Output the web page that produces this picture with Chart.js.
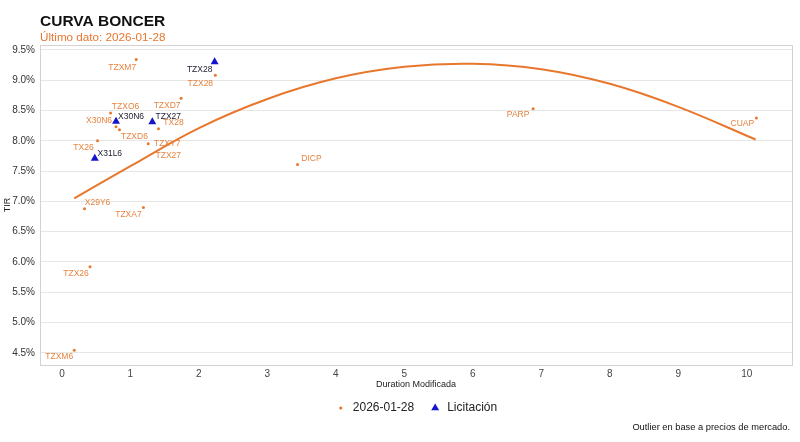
<!DOCTYPE html>
<html>
<head>
<meta charset="utf-8">
<script src="https://cdn.jsdelivr.net/npm/chart.js@4/dist/chart.umd.min.js"></script>
<style>
  html, body { margin: 0; padding: 0; background: #fff; }
</style>
</head>
<body>
<canvas id="myChart" width="800" height="442"></canvas>
<script>
// --- data ---
const bonos = ["TZXM7", "TZX28", "TZXD7", "TZXO6", "X30N6", "TZXD6", "TX28", "TZXY7", "TZX27",
  "TX26", "X29Y6", "TZXA7", "TZX26", "TZXM6", "DICP", "PARP", "CUAP"];
const bonosDuration = [1.085, 2.24, 1.74, 0.71, 0.79, 0.84, 1.41, 1.26, 1.32,
  0.52, 0.33, 1.19, 0.41, 0.18, 3.44, 6.88, 10.14];
const bonosTir = [9.34, 9.08, 8.70, 8.46, 8.23, 8.18, 8.20, 7.95, 8.31,
  8.00, 6.88, 6.90, 5.92, 4.545, 7.61, 8.53, 8.375];

const licitacion = ["TZX28", "X30N6", "TZX27", "X31L6"];
const licitacionDuration = [2.23, 0.79, 1.32, 0.48];
const licitacionTir = [9.30, 8.32, 8.31, 7.71];

// fitted curve
const curvaDuration = [0.18, 1, 2, 3, 4, 5, 6, 7, 8, 9, 10.13];
const curvaTir = [7.05, 7.58, 8.21, 8.69, 9.03, 9.22, 9.27, 9.18, 8.94, 8.56, 8.02];

const xTicks = [0, 1, 2, 3, 4, 5, 6, 7, 8, 9, 10];
const yTicks = [4.5, 5, 5.5, 6, 6.5, 7, 7.5, 8, 8.5, 9, 9.5];

const fechaDato = "2026-01-28";

// where the repel labels sit relative to each point (px)
const bonosLabelDx = [-14, -15, -14, 15, -17, 15, 15, 19, 16, -14, 13, -15, -14, -15, 14, -15, -14];
const bonosLabelDy = [8, 8, 7, -6, -6, 7, -6, 0, 34, 7, -6, 7, 7, 7, -6, 6, 6];
const licitacionLabelDx = [-15, 15, 16, 15];
const licitacionLabelDy = [8, -5, -5, -5];

const ORANGE = "#E8772E";
const ORANGE_TXT = "#E8823E";
const BLUE = "#1414CC";
const FONT = "'Liberation Sans', Arial, Helvetica, sans-serif";

function toPoints(xs, ys) {
  return xs.map((x, i) => ({ x: x, y: ys[i] }));
}

const decor = {
  id: "decor",
  beforeDraw(chart) {
    const ctx = chart.ctx;
    ctx.save();
    ctx.fillStyle = "#fff";
    ctx.fillRect(0, 0, chart.width, chart.height);
    ctx.restore();
  },
  beforeDatasetsDraw(chart) {
    const { ctx, chartArea: a } = chart;
    ctx.save();
    ctx.strokeStyle = "#d2d2d2";
    ctx.lineWidth = 1;
    ctx.strokeRect(Math.round(a.left) + 0.5, Math.round(a.top) + 0.5,
      Math.round(a.right - a.left), Math.round(a.bottom - a.top));
    ctx.restore();
  },
  afterDatasetsDraw(chart) {
    const ctx = chart.ctx;
    ctx.save();
    ctx.font = "8.5px " + FONT;
    ctx.textAlign = "center";
    ctx.textBaseline = "middle";
    chart.data.datasets.forEach((ds, di) => {
      if (!ds.names) return;
      const meta = chart.getDatasetMeta(di);
      ctx.fillStyle = ds.nameColor;
      meta.data.forEach((el, i) => {
        ctx.fillText(ds.names[i], el.x + ds.dx[i], el.y + ds.dy[i]);
      });
    });
    ctx.restore();
  },
  afterDraw(chart) {
    const { ctx, chartArea: a } = chart;
    ctx.save();
    ctx.textBaseline = "middle";
    ctx.textAlign = "left";
    ctx.fillStyle = "#111";
    ctx.font = "bold 15.5px " + FONT;
    ctx.fillText("CURVA BONCER", 40, 22);
    ctx.fillStyle = ORANGE;
    ctx.font = "11.7px " + FONT;
    ctx.fillText("Último dato: " + fechaDato, 40, 37.5);

    // legend
    ctx.font = "12px " + FONT;
    const t1 = fechaDato, t2 = "Licitación";
    const w1 = ctx.measureText(t1).width, w2 = ctx.measureText(t2).width;
    const total = 18 + w1 + 15 + 18 + w2;
    let x = (a.left + a.right) / 2 - total / 2;
    const y = 408;
    ctx.fillStyle = ORANGE;
    ctx.beginPath();
    ctx.arc(x + 6, y, 1.6, 0, Math.PI * 2);
    ctx.fill();
    ctx.fillStyle = "#222";
    ctx.fillText(t1, x + 18, y);
    x += 18 + w1 + 15;
    const r = 4.6;
    ctx.fillStyle = BLUE;
    ctx.beginPath();
    ctx.moveTo(x + 6, y - r);
    ctx.lineTo(x + 6 + r * 0.866, y + r * 0.5);
    ctx.lineTo(x + 6 - r * 0.866, y + r * 0.5);
    ctx.closePath();
    ctx.fill();
    ctx.fillStyle = "#222";
    ctx.fillText(t2, x + 18, y);

    // caption
    ctx.textAlign = "right";
    ctx.font = "9.3px " + FONT;
    ctx.fillStyle = "#111";
    ctx.fillText("Outlier en base a precios de mercado.", 790, 427);
    ctx.restore();
  }
};

const ctx = document.getElementById("myChart").getContext("2d");
const myChart = new Chart(ctx, {
  type: "scatter",
  data: {
    datasets: [
      {
        label: "curva",
        type: "line",
        data: toPoints(curvaDuration, curvaTir),
        borderColor: ORANGE,
        borderWidth: 2,
        pointRadius: 0,
        tension: 0.4,
        fill: false,
        order: 3
      },
      {
        label: fechaDato,
        data: toPoints(bonosDuration, bonosTir),
        backgroundColor: ORANGE,
        borderWidth: 0,
        pointRadius: 1.5,
        names: bonos,
        nameColor: ORANGE_TXT,
        dx: bonosLabelDx,
        dy: bonosLabelDy,
        order: 2
      },
      {
        label: "Licitación",
        data: toPoints(licitacionDuration, licitacionTir),
        backgroundColor: BLUE,
        borderColor: BLUE,
        borderWidth: 0,
        pointStyle: "triangle",
        pointRadius: 4.6,
        names: licitacion,
        nameColor: "#1c1c30",
        dx: licitacionLabelDx,
        dy: licitacionLabelDy,
        order: 1
      }
    ]
  },
  options: {
    responsive: false,
    devicePixelRatio: 1,
    animation: false,
    events: [],
    layout: { padding: { top: 45, right: 8, bottom: 52, left: 0 } },
    plugins: {
      legend: { display: false },
      tooltip: { enabled: false }
    },
    scales: {
      x: {
        type: "linear",
        min: -0.32,
        max: 10.66,
        afterBuildTicks: (s) => { s.ticks = xTicks.map((v) => ({ value: v })); },
        afterFit: (s) => { s.height = 25; },
        grid: { display: false, drawTicks: false },
        border: { display: false },
        ticks: { padding: 3, color: "#444", font: { size: 10, family: FONT }, maxRotation: 0 },
        title: {
          display: true,
          text: "Duration Modificada",
          color: "#222",
          font: { size: 9, family: FONT },
          padding: { top: 0, bottom: 0 }
        }
      },
      y: {
        min: 4.3,
        max: 9.58,
        afterBuildTicks: (s) => { s.ticks = yTicks.map((v) => ({ value: v })); },
        afterFit: (s) => { s.width = 40; },
        grid: { color: "#e6e6e6", lineWidth: 1, drawTicks: false },
        border: { display: false },
        ticks: {
          padding: 5,
          color: "#333",
          font: { size: 10, family: FONT },
          callback: (v) => Number(v).toFixed(1) + "%"
        },
        title: {
          display: true,
          text: "TIR",
          color: "#222",
          font: { size: 9, family: FONT },
          padding: { top: 2, bottom: 0 }
        }
      }
    }
  },
  plugins: [decor]
});
</script>
</body>
</html>
